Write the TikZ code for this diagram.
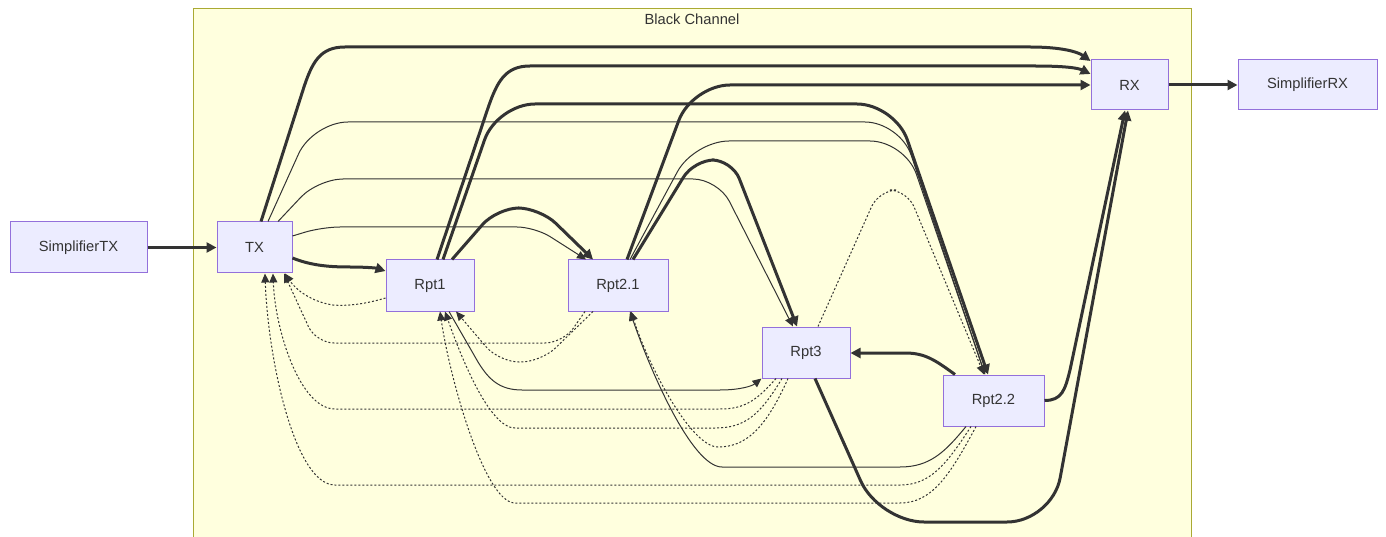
\documentclass[tikz,border=0pt]{standalone}
\usepackage{fontspec}
\setmainfont{Liberation Sans}
\usetikzlibrary{arrows.meta}
\definecolor{ln}{HTML}{333333}
\definecolor{nfill}{HTML}{ECECFF}
\definecolor{nstroke}{HTML}{9370DB}
\definecolor{cfill}{HTML}{FFFFDE}
\definecolor{cstroke}{HTML}{AAAA33}
\begin{document}
\begin{tikzpicture}[x=1pt,y=-1pt,
  box/.style={draw=nstroke, fill=nfill, line width=1pt, text=ln, font=\fontsize{14.7}{17}\selectfont, minimum height=51pt, inner sep=0pt},
  thickedge/.style={draw=ln, line width=3pt, -{Triangle[length=10pt,width=10pt]}},
  thinedge/.style={draw=ln, line width=1pt, -{Triangle[length=9pt,width=8pt]}},
  dotedge/.style={draw=ln, line width=1pt, dash pattern=on 2pt off 2pt, -{Triangle[length=9pt,width=8pt]}},
  cluster/.style={draw=cstroke, fill=cfill, line width=1pt}]
\useasboundingbox (0,0) rectangle (1386,537);
\clip (0,0) rectangle (1386,537);
\fill[white] (0,0) rectangle (1386,537);
\draw[cluster] (193.5,8.5) rectangle (1191.5,560);
\node[text=ln, font=\fontsize{14.7}{17}\selectfont] (bc) at (692,19) {Black Channel};
% nodes
\node[box, minimum width=137pt] (stx) at (78.5,247.5) {SimplifierTX};
\node[box, minimum width=75pt] (tx) at (254.5,247.5) {TX};
\node[box, minimum width=88pt] (r1) at (430,285.5) {Rpt1};
\node[box, minimum width=100pt] (r21) at (618,285.5) {Rpt2.1};
\node[box, minimum width=88pt] (r3) at (806,352.5) {Rpt3};
\node[box, minimum width=101pt] (r22) at (993.5,400.5) {Rpt2.2};
\node[box, minimum width=77pt, minimum height=50pt] (rx) at (1129.5,85) {RX};
\node[box, minimum width=139pt, minimum height=50pt] (srx) at (1307.5,85) {SimplifierRX};
% thick edges
\draw[thickedge] (stx) -- (tx);
\draw[thickedge] (rx) -- (srx);
\draw[thickedge] (tx.east |- 0,258) .. controls (312,266) and (332,267) .. (350,267) .. controls (365,267) and (376,268) .. (r1.west |- 0,271);
\draw[thickedge] (tx.north -| 261,0) -- (303,90) .. controls (312,62) and (320,47) .. (345,47) -- (1030,47) .. controls (1062,47) and (1078,52) .. (rx.west |- 0,61);
\draw[thickedge] (r1.north -| 437,0) -- (488,108) .. controls (497,82) and (505,66) .. (530,66) -- (1035,66) .. controls (1065,66) and (1078,68) .. (rx.west |- 0,74);
\draw[thickedge, rounded corners=38pt] (r1.north -| 443,0) -- (497,104) -- (895,104) -- (r22.north -| 988,0);
\draw[thickedge, rounded corners=22pt] (r1.north -| 452,0) -- (497,208) -- (540,208) -- (r21.north -| 593,0);
\draw[thickedge, rounded corners=38pt] (r21.north -| 627,0) -- (692,85) -- (rx.west);
\draw[thickedge, rounded corners=20pt] (r21.north -| 633,0) -- (694,160) -- (732,160) -- (r3.north -| 797,0);
\draw[thickedge] (r22.north -| 955,0) .. controls (935,360) and (925,353) .. (905,353) -- (r3.east |- 0,353);
\draw[thickedge] (r22.east) .. controls (1062,400.5) and (1065,390) .. (1070,370) -- (rx.south -| 1125,0);
\draw[thickedge, rounded corners=45pt] (r3.south -| 815,0) -- (879,522) -- (1052,522) -- (rx.south -| 1128,0);
% thin edges
\draw[thinedge, rounded corners=35pt] (r21.north -| 630,0) -- (694,141) -- (905,141) -- (r22.north -| 985,0);
\draw[thinedge, rounded corners=35pt] (tx.north -| 268,0) -- (313,122) -- (900,122) -- (r22.north -| 985,0);
\draw[thinedge, rounded corners=25pt] (tx.north -| 278,0) -- (318,179) -- (718,179) -- (r3.north -| 793,0);
\draw[thinedge, rounded corners=18pt] (tx.east |- 0,236) -- (322,227) -- (535,227) -- (r21.north -| 586,0);
\draw[thinedge] (r1.south -| 449,0) -- (478,362) .. controls (489,380) and (500,390) .. (522,390) -- (720,390) .. controls (740,390) and (752,386) .. (r3.south west);
\draw[thinedge] (r22.south -| 966,0) .. controls (945,452) and (930,467) .. (900,467) -- (722,467) .. controls (692,467) and (650,370) .. (r21.south -| 630,0);
% dotted edges
\draw[dotedge, rounded corners=18pt] (r3.north -| 818,0) -- (879,190) -- (907,190) -- (r22.north -| 984,0);
\draw[dotedge] (r1.west |- 0,298) .. controls (362,305) and (345,306) .. (333,305) .. controls (312,302) and (296,290) .. (tx.south -| 285,0);
\draw[dotedge, rounded corners=18pt] (r21.south -| 585,0) -- (563,343) -- (316,343) -- (tx.south -| 284,0);
\draw[dotedge, rounded corners=20pt] (r21.south -| 593,0) -- (541,362) -- (499,362) -- (r1.south -| 456,0);
\draw[dotedge] (r3.south -| 776,0) .. controls (757,400) and (745,409) .. (720,409) -- (335,409) .. controls (300,409) and (275,330) .. (tx.south -| 273,0);
\draw[dotedge] (r3.south -| 782,0) .. controls (760,415) and (745,428) .. (715,428) -- (515,428) .. controls (490,428) and (462,360) .. (r1.south -| 445,0);
\draw[dotedge] (r3.south -| 788,0) .. controls (765,430) and (745,447) .. (718,447) .. controls (692,447) and (650,370) .. (r21.south -| 631,0);
\draw[dotedge] (r22.south -| 971,0) .. controls (946,465) and (930,485) .. (900,485) -- (335,485) .. controls (295,485) and (268,360) .. (tx.south -| 265,0);
\draw[dotedge] (r22.south -| 976,0) .. controls (950,475) and (932,503) .. (900,503) -- (515,503) .. controls (485,503) and (450,380) .. (r1.south -| 440,0);
\end{tikzpicture}
\end{document}
